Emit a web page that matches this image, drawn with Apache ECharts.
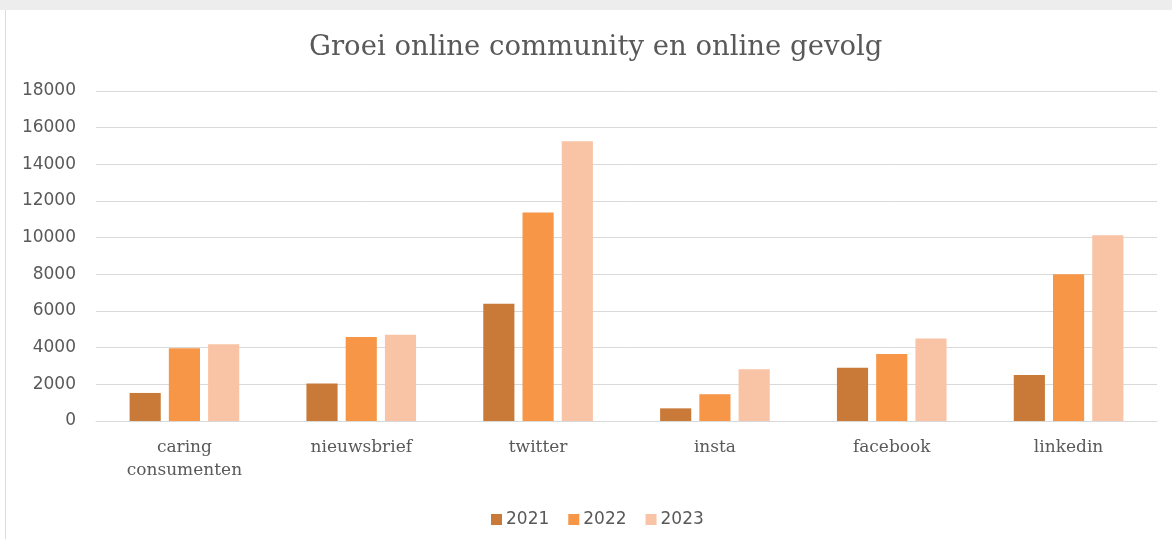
<!DOCTYPE html>
<html>
<head>
<meta charset="utf-8">
<script src="https://cdn.jsdelivr.net/npm/echarts@6/dist/echarts.min.js"></script>
<style>
html, body { margin: 0; padding: 0; background: #fff; }
#strip { position: absolute; left: 0; top: 0; width: 1172px; height: 10px; background: #ededed; }
#edge { position: absolute; left: 5px; top: 10px; width: 1px; height: 529px; background: #dcdcdc; }
#main { position: absolute; left: 0; top: 0; width: 1172px; height: 539px; }
</style>
</head>
<body>
<div id="strip"></div>
<div id="edge"></div>
<div id="main"></div>
<script>
var categories = ['caring\nconsumenten', 'nieuwsbrief', 'twitter', 'insta', 'facebook', 'linkedin'];
var years = ['2021', '2022', '2023'];
var data2021 = [1530, 2040, 6400, 690, 2910, 2510];
var data2022 = [3970, 4580, 11370, 1460, 3650, 8000];
var data2023 = [4180, 4710, 15260, 2820, 4500, 10130];
var colors = ['#C97A38', '#F79646', '#F9C3A6'];

var myChart = echarts.init(document.getElementById('main'));

function makeSeries(name, values, i) {
	return {
		name: name,
		type: 'bar',
		data: values,
		barGap: '26%',
		barCategoryGap: '38%',
		itemStyle: { color: colors[i] }
	};
}

var option = {
	animation: false,
	backgroundColor: 'transparent',
	title: {
		text: 'Groei online community en online gevolg',
		left: 304,
		top: 29,
		textStyle: {
			fontFamily: 'DejaVu Serif',
			fontWeight: 'normal',
			fontSize: 27.5,
			color: '#595959'
		}
	},
	legend: {
		data: years,
		left: 486,
		top: 506,
		itemWidth: 11,
		itemHeight: 11,
		itemGap: 19,
		icon: 'rect',
		textStyle: {
			fontFamily: 'DejaVu Sans',
			fontSize: 17,
			color: '#595959',
			padding: [0, 0, 0, -1]
		}
	},
	grid: {
		left: 96,
		right: 15,
		top: 91,
		height: 330,
		containLabel: false
	},
	xAxis: {
		type: 'category',
		data: categories,
		axisTick: { show: false },
		axisLine: { lineStyle: { color: '#d9d9d9', width: 1 } },
		axisLabel: {
			margin: 15,
			fontFamily: 'DejaVu Serif',
			fontSize: 17,
			lineHeight: 23,
			color: '#595959'
		}
	},
	yAxis: {
		type: 'value',
		min: 0,
		max: 18000,
		interval: 2000,
		axisLine: { show: false },
		axisTick: { show: false },
		splitLine: { lineStyle: { color: '#d9d9d9', width: 1 } },
		axisLabel: {
			margin: 20,
			fontFamily: 'DejaVu Sans',
			fontSize: 17,
			color: '#595959',
			formatter: function (v) { return String(v); }
		}
	},
	series: [
		makeSeries(years[0], data2021, 0),
		makeSeries(years[1], data2022, 1),
		makeSeries(years[2], data2023, 2)
	]
};

myChart.setOption(option);
</script>
</body>
</html>
